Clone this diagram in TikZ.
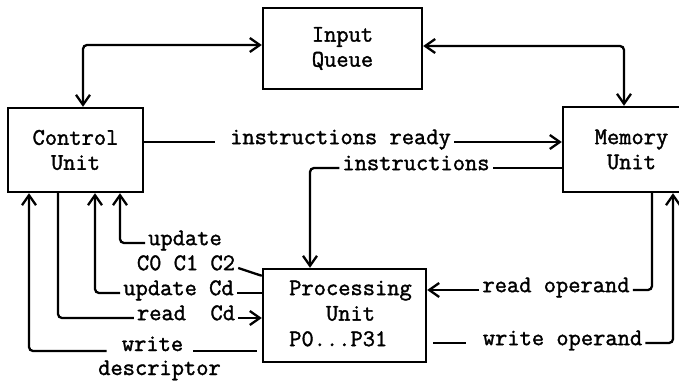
\documentclass[tikz,border=0pt]{standalone}
\usepackage{fontspec}
\newfontfamily\tw{Latin Modern Mono}[FakeBold=1.6]
\usetikzlibrary{arrows.meta,calc}
\begin{document}
\begin{tikzpicture}[x=1pt,y=-1pt,
  every node/.style={font=\fontsize{23.8}{25}\selectfont\tw},
  box/.style={draw, line width=2.4pt, inner sep=0pt, align=center},
  lab/.style={inner ysep=0pt, inner xsep=3pt, anchor=mid},
  conn/.style={line width=2.3pt, rounded corners=4pt},
  arr/.style={-{Straight Barb[length=10pt,width=14pt]}},
  biarr/.style={{Straight Barb[length=10pt,width=14pt]}-{Straight Barb[length=10pt,width=14pt]}}
]
\useasboundingbox (0,0) rectangle (679,382);
% boxes
\node[box, minimum width=159pt, minimum height=81pt] (IQ) at (342.5,48.5) {Input\\Queue};
\node[box, minimum width=135pt, minimum height=84pt] (CU) at (75.5,150) {Control\\Unit};
\node[box, minimum width=137pt, minimum height=85pt] (MU) at (631.5,149.5) {Memory\\Unit};
\node[box, minimum width=163pt, minimum height=93pt] (PU) at (344.5,315.5)
  {\hspace*{12pt}\fontsize{23.8}{25.5}\selectfont\begin{tabular}{@{}l@{}}Processing\\\hphantom{xxx}Unit\\P0...P31\end{tabular}};
% input queue links
\draw[conn,biarr] ([yshift=3.5pt]IQ.west) -| ([xshift=7.5pt]CU.north);
\draw[conn,biarr] ([yshift=2.5pt]IQ.east) -| ([xshift=-7.5pt]MU.north);
% instructions ready
\node[lab] (ir) at (340.5,142) {instructions ready};
\draw[conn] (CU.east |- ir.mid) -- ([xshift=-12pt]ir.mid west);
\draw[conn,arr] (ir.mid east) -- (MU.west |- ir.mid);
% instructions
\node[lab] (ins) at (416,168) {instructions};
\draw[conn] (MU.west |- ins.mid) -- (ins.mid east);
\draw[conn,arr] (ins.mid west) -| ([xshift=-34.5pt]PU.north);
% update
\node[lab] (up) at (185,243) {update};
\draw[conn,arr] (up.mid west) -| ([xshift=44.5pt]CU.south);
% C0 C1 C2
\node[lab] (c) at (186,268) {C0 C1 C2};
\draw[conn] (c.mid east) -- ([yshift=-8pt]PU.north west);
% update Cd
\node[lab] (ucd) at (178.5,293) {update Cd};
\draw[conn] (PU.west |- ucd.mid) -- (ucd.mid east);
\draw[conn,arr] (ucd.mid west) -| ([xshift=19.5pt]CU.south);
% read Cd
\node[lab] (rcd) at (186,318) {read\ \ Cd};
\draw[conn] ([xshift=-17.5pt]CU.south) |- (rcd.mid west);
\draw[conn,arr] (rcd.mid east) -- (PU.west |- rcd.mid);
% write descriptor
\node[lab, anchor=base] (wr) at (152.5,351) {write};
\node[lab, anchor=base] (desc) at (159.5,375) {descriptor};
\coordinate (wend) at ($(PU.west |- wr.base)+(-5,0)$);
\draw[conn,arr] ([xshift=-12pt]wr.base west) -| ([xshift=-46.5pt]CU.south);
\draw[conn] ([xshift=7pt]wr.base east) -- (wend);
% read operand
\node[lab] (ro) at (556,290) {read operand};
\draw[conn,arr] (ro.mid west) -- (PU.east |- ro.mid);
\draw[conn] (ro.mid east) -| ([xshift=20.5pt]MU.south);
% write operand
\node[lab] (wo) at (562.5,343) {write operand};
\coordinate (wstart) at ($(PU.east |- wo.mid)+(6,0)$);
\draw[conn] (wstart) -- ([xshift=-14pt]wo.mid west);
\draw[conn,arr] (wo.mid east) -| ([xshift=41.5pt]MU.south);
\end{tikzpicture}
\end{document}
